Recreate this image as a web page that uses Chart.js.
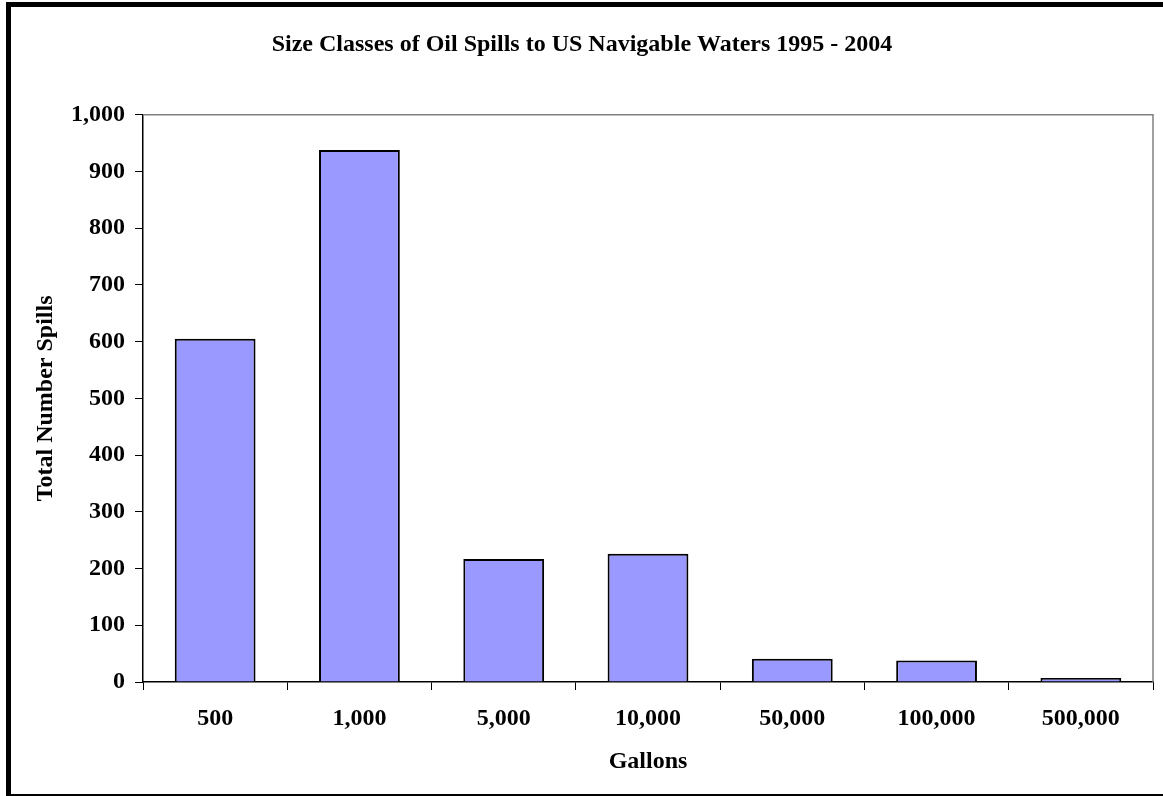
<!DOCTYPE html>
<html>
<head>
<meta charset="utf-8">
<script src="https://cdn.jsdelivr.net/npm/chart.js@4/dist/chart.umd.min.js"></script>
<style>
    html, body { margin: 0; padding: 0; background: #ffffff; }
    #wrap { width: 1163px; height: 796px; }
</style>
</head>
<body>
<div id="wrap"><canvas id="spillsChart" width="1163" height="796"></canvas></div>
<script>
// Datos
const categories = ['500', '1,000', '5,000', '10,000', '50,000', '100,000', '500,000'];
const spillCounts = [605, 938, 217, 226, 41, 38, 7];
const yTicks = [0, 100, 200, 300, 400, 500, 600, 700, 800, 900, 1000];

const serif = '"Liberation Serif", "Times New Roman", serif';

// Marco exterior negro y borde gris del área de trazado
const framePlugin = {
    id: 'frame',
    beforeDatasetsDraw(chart) {
        const { ctx, chartArea } = chart;
        ctx.save();
        ctx.strokeStyle = '#808080';
        ctx.lineWidth = 1.5;
        ctx.beginPath();
        ctx.moveTo(chartArea.left, chartArea.top);
        ctx.lineTo(chartArea.right, chartArea.top);
        ctx.lineTo(chartArea.right, chartArea.bottom);
        ctx.stroke();
        ctx.restore();
    },
    afterDraw(chart) {
        const ctx = chart.ctx;
        ctx.save();
        ctx.fillStyle = '#000000';
        ctx.fillRect(6, 2, 1157, 5);
        ctx.fillRect(6, 2, 5, 794);
        ctx.fillRect(11, 794, 1152, 2);
        ctx.restore();
    }
};

new Chart(document.getElementById('spillsChart').getContext('2d'), {
    type: 'bar',
    data: {
        labels: categories,
        datasets: [{
            label: 'Total Number Spills',
            data: spillCounts,
            backgroundColor: '#9999ff',
            borderColor: '#000000',
            borderWidth: 2,
            barPercentage: 0.56,
            categoryPercentage: 1
        }]
    },
    options: {
        responsive: false,
        animation: false,
        layout: {
            padding: { left: 11, right: 10, top: 0, bottom: 0 }
        },
        plugins: {
            legend: { display: false },
            tooltip: { enabled: false },
            title: {
                display: true,
                text: 'Size Classes of Oil Spills to US Navigable Waters 1995 - 2004',
                color: '#000000',
                font: { family: serif, size: 24, weight: 'bold' },
                padding: { top: 30, bottom: 56 }
            }
        },
        scales: {
            x: {
                offset: true,
                grid: {
                    offset: true,
                    drawOnChartArea: false,
                    drawTicks: true,
                    tickLength: 8,
                    tickColor: '#000000'
                },
                border: { color: '#000000', width: 1.5 },
                ticks: {
                    color: '#000000',
                    font: { family: serif, size: 24, weight: 'bold' },
                    padding: 14,
                    maxRotation: 0
                },
                title: {
                    display: true,
                    text: 'Gallons',
                    color: '#000000',
                    font: { family: serif, size: 24, weight: 'bold' },
                    padding: { top: 0, bottom: 20 }
                },
                afterFit(scale) { scale.height = 114; }
            },
            y: {
                min: 0,
                max: 1000,
                afterBuildTicks(scale) {
                    scale.ticks = yTicks.map(v => ({ value: v }));
                },
                grid: {
                    drawOnChartArea: false,
                    drawTicks: true,
                    tickLength: 8,
                    tickColor: '#000000'
                },
                border: { color: '#000000', width: 1.5 },
                ticks: {
                    color: '#000000',
                    font: { family: serif, size: 24, weight: 'bold' },
                    padding: 10,
                    callback: v => v.toLocaleString('en-US')
                },
                title: {
                    display: true,
                    text: 'Total Number Spills',
                    color: '#000000',
                    font: { family: serif, size: 24, weight: 'bold' },
                    padding: { top: 20, bottom: 0 }
                },
                afterFit(scale) { scale.width = 132; }
            }
        }
    },
    plugins: [framePlugin]
});
</script>
</body>
</html>
